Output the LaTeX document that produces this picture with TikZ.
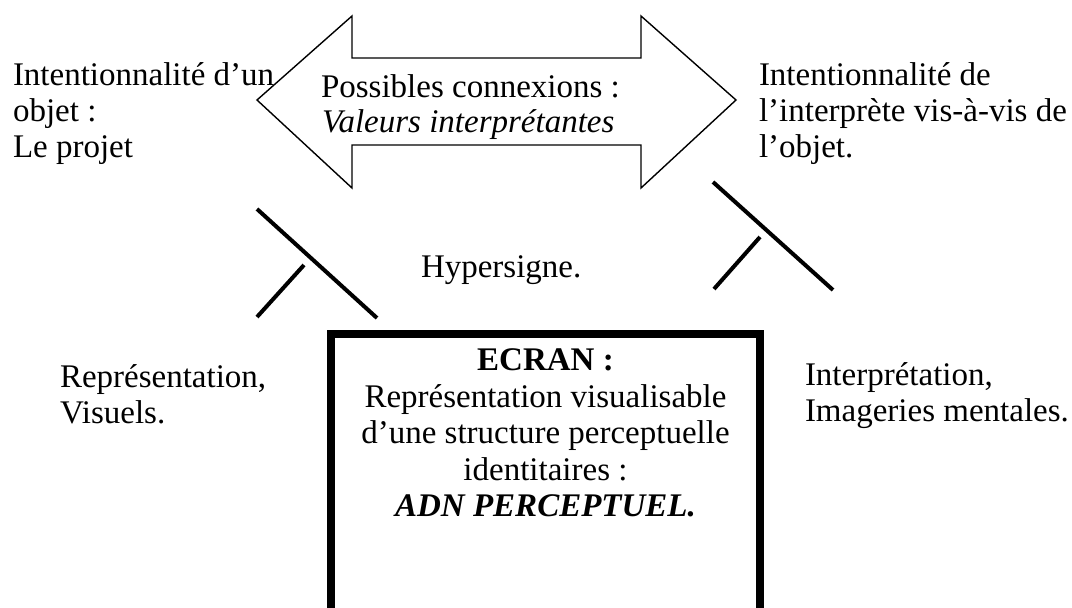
\documentclass[tikz,border=0pt]{standalone}
\usepackage{fontspec}
\setmainfont{Liberation Serif}
\begin{document}
\begin{tikzpicture}[x=1pt,y=-1pt,
  txt/.style={inner sep=0pt,outer sep=0pt,font=\fontsize{33}{36}\selectfont},
  lw/.style={anchor=base west},
  lc/.style={anchor=base},
  bar/.style={line width=4pt},
  framebox/.style={line width=8pt},
  bigarrow/.style={line width=1.4pt,line join=miter}]
\useasboundingbox (0,0) rectangle (1072,608);
\clip (0,0) rectangle (1072,608);
% double arrow
\draw[bigarrow] (257,100) -- (352,16) -- (352,58) -- (641,58) -- (641,16) -- (736,100)
  -- (641,188) -- (641,145) -- (352,145) -- (352,188) -- cycle;
\node[txt,lw] (pc) at (321,97) {Possibles connexions :};
\node[txt,lw] (vi) at (322,132) {\itshape Valeurs interprétantes};
% left text
\node[txt,lw] (l1) at (13,85) {Intentionnalité d’un};
\node[txt,lw] (l2) at (13,121) {objet :};
\node[txt,lw] (l3) at (13,157) {Le projet};
% right text
\node[txt,lw] (r1) at (759,85) {Intentionnalité de};
\node[txt,lw] (r2) at (759,121) {l’interprète vis-à-vis de};
\node[txt,lw] (r3) at (759,157) {l’objet.};
% hypersigne
\node[txt,lw] (hy) at (421,277) {Hypersigne.};
% bars left
\draw[bar] (257,209) -- (377,318);
\draw[bar] (304,265) -- (257,317);
% bars right
\draw[bar] (713,182) -- (833,290);
\draw[bar] (760,237) -- (714,289);
% lower side texts
\node[txt,lw] (b1) at (60,387) {Représentation,};
\node[txt,lw] (b2) at (60,423) {Visuels.};
\node[txt,lw] (c1) at (805,385) {Interprétation,};
\node[txt,lw] (c2) at (805,421) {Imageries mentales.};
% screen box
\draw[framebox] (331,333.5) rectangle (760,612);
\node[txt,lc] (e1) at (545.5,370) {\bfseries ECRAN :};
\node[txt,lc] (e2) at (545.5,407) {Représentation visualisable};
\node[txt,lc] (e3) at (545.5,443) {d’une structure perceptuelle};
\node[txt,lc] (e4) at (545.5,480) {identitaires :};
\node[txt,lc] (e5) at (545.5,516) {\bfseries\itshape ADN PERCEPTUEL.};
\end{tikzpicture}
\end{document}
